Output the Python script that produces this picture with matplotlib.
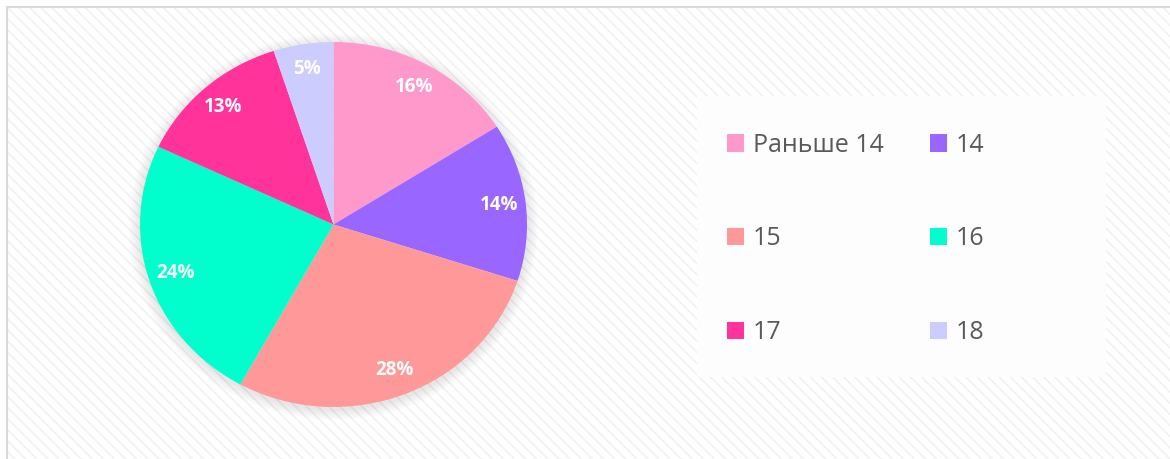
import matplotlib.pyplot as plt
from matplotlib.patches import Rectangle, Ellipse

plt.rcParams['font.family'] = ['Open Sans', 'DejaVu Sans']
plt.rcParams['hatch.linewidth'] = 1.2

# data
kategori = ['Раньше 14', '14', '15', '16', '17', '18']
persen = [16, 14, 28, 24, 13, 5]
warna = ['#FF99CC', '#9966FF', '#FF9999', '#00FFCC', '#FF3399', '#CCCCFF']

W, H = 1170, 459
fig = plt.figure(figsize=(W / 100, H / 100), dpi=100)
fig.patch.set_facecolor('white')

# latar belakang bergaris diagonal + bingkai abu-abu
bg = Rectangle((8 / W, -0.05), 1.1, 1 - 8 / H + 0.05, transform=fig.transFigure,
               facecolor='white', edgecolor='#F1F1F1', hatch='\\\\\\', linewidth=0, zorder=-10)
fig.patches.append(bg)
bingkai = Rectangle((7 / W, -0.05), 1.1, 1 - 7 / H + 0.05, transform=fig.transFigure,
                    facecolor='none', edgecolor='#D9D9D9', linewidth=1.5, zorder=-9)
fig.patches.append(bingkai)

# kotak legenda
kotak = Rectangle((697 / W, 1 - 377 / H), (1106 - 697) / W, (377 - 96) / H,
                  transform=fig.transFigure, facecolor='#FDFDFD', edgecolor='none', zorder=-8)
fig.patches.append(kotak)

# pie
ax = fig.add_axes([140 / W, 1 - 407 / H, 387 / W, 365 / H])
for i in range(12):
    s = 1.0 + 0.005 * (i + 1)
    ax.add_patch(Ellipse((0.0, -0.012), 2 * s, 2 * s, facecolor='#000000',
                         alpha=0.008, edgecolor='none', zorder=0, clip_on=False))

wedges, teks, auto = ax.pie(persen, colors=warna, startangle=90, counterclock=False,
                            autopct='%.0f%%', pctdistance=0.86,
                            wedgeprops=dict(linewidth=0, zorder=2),
                            textprops=dict(color='white', fontsize=13.5, fontweight='bold'))
for t in auto:
    t.set_zorder(3)
ax.set_aspect('auto')
ax.set_xlim(-1, 1)
ax.set_ylim(-1, 1)
ax.axis('off')

# legenda, urut per baris
urutan = [0, 2, 4, 1, 3, 5]
leg = fig.legend([wedges[i] for i in urutan], [kategori[i] for i in urutan],
                 ncol=2, frameon=False, loc='upper left',
                 bbox_to_anchor=(714 / W, 1 - 120 / H),
                 fontsize=18, labelcolor='#595959',
                 handlelength=0.7, handleheight=0.7, handletextpad=0.35,
                 labelspacing=2.75, columnspacing=1.85, borderpad=0)

fig.savefig('out.png', dpi=100)
